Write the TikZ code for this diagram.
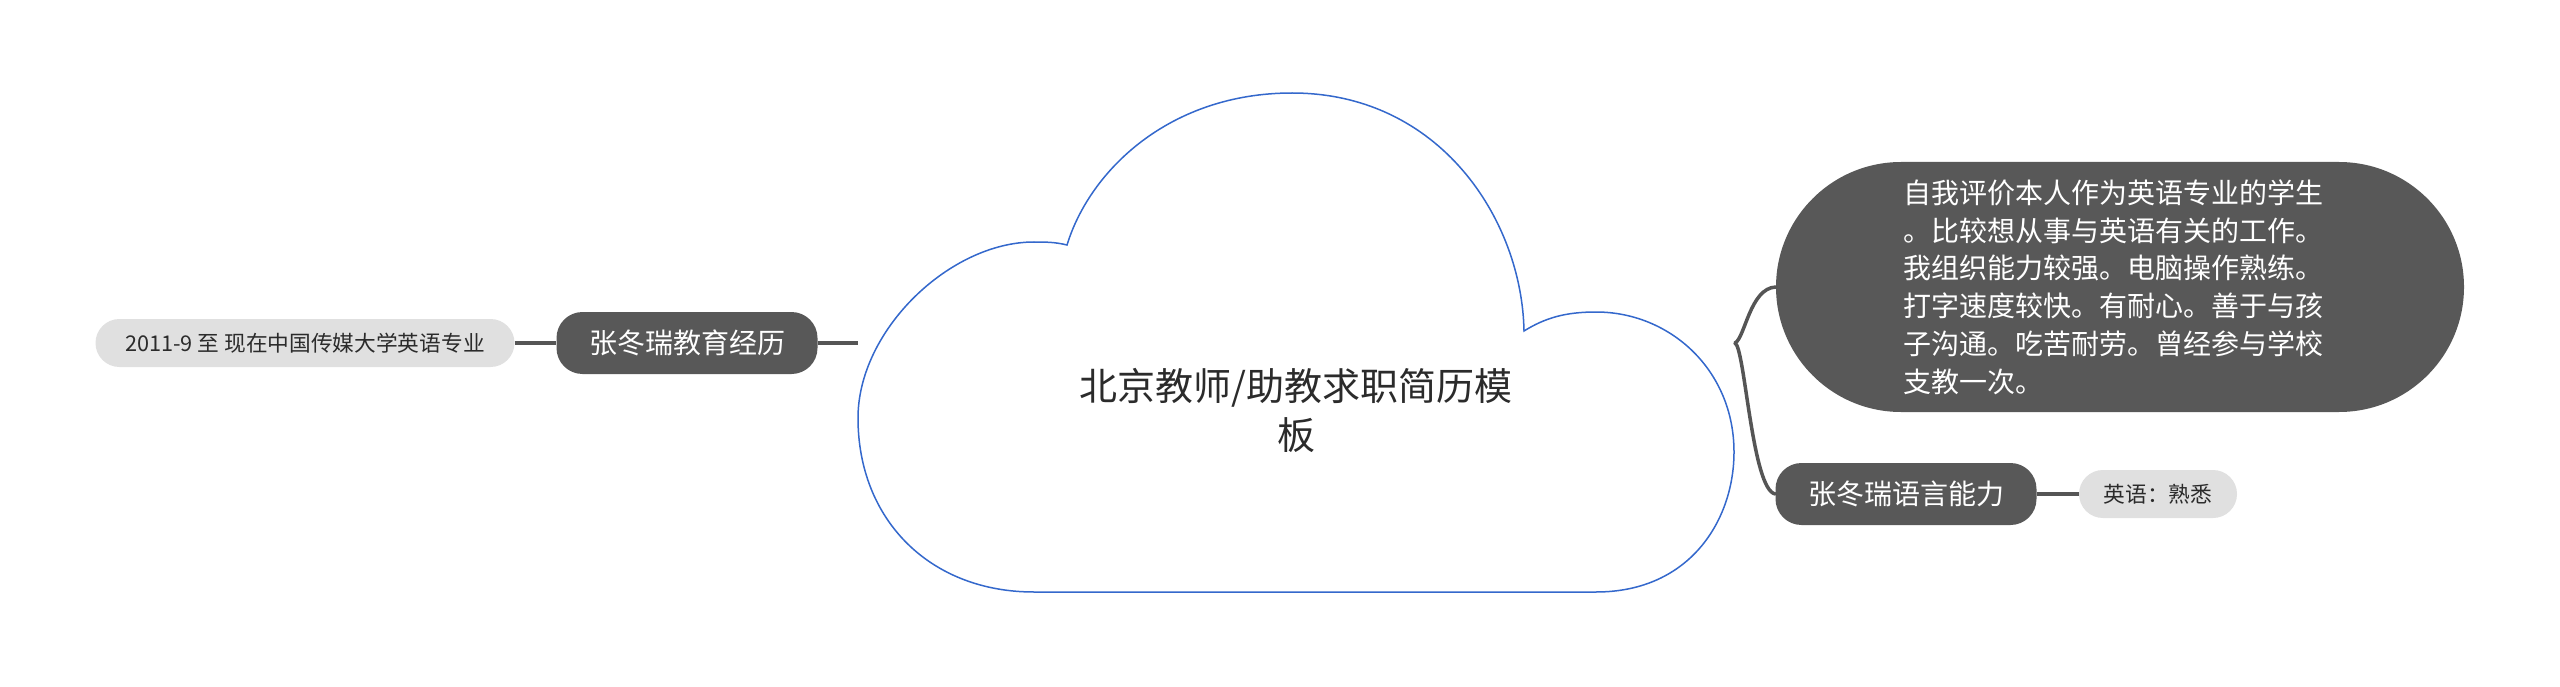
\documentclass[tikz,border=0pt]{standalone}
\usepackage{fontspec}
\setmainfont{Noto Sans CJK SC}
\definecolor{nodegray}{HTML}{585858}
\definecolor{leafgray}{HTML}{E0E0E0}
\definecolor{linegray}{HTML}{555555}
\definecolor{cloudblue}{HTML}{3468CC}
\definecolor{textdark}{HTML}{2B2B2B}
\begin{document}
\begin{tikzpicture}[x=1pt,y=-1pt,
  branchbox/.style={rectangle, rounded corners=26pt, fill=nodegray, text=white,
    minimum width=261pt, minimum height=62pt, inner sep=0pt,
    font=\fontsize{28}{34}\selectfont},
  leafbox/.style={rectangle, rounded corners=24pt, fill=leafgray, text=textdark,
    minimum height=48pt, inner sep=0pt, font=\fontsize{21.7}{26}\selectfont},
  bigbox/.style={rectangle, rounded corners=125pt, fill=nodegray, text=white,
    minimum width=688pt, minimum height=250pt, inner sep=0pt, align=left,
    text width=434pt, font=\fontsize{28}{37.8}\selectfont},
  cloudline/.style={draw=cloudblue, line width=1.5pt},
  link/.style={draw=linegray, line width=3.5pt},
  titletext/.style={text=textdark, align=center, font=\fontsize{38}{49}\selectfont}]
\useasboundingbox[fill=white] (0,0) rectangle (2560,687);

% cloud (root)
\draw[cloudline] (1034,592) -- (1596,592)
  .. controls (1690,592) and (1734,520) .. (1734,452)
  .. controls (1734,370) and (1670,312) .. (1596,312)
  .. controls (1565,312) and (1545,318) .. (1524,331)
  .. controls (1522,220) and (1440,93) .. (1292,93)
  .. controls (1170,93) and (1090,170) .. (1067,245)
  .. controls (1055,242) and (1045,242) .. (1034,242)
  .. controls (950,242) and (858,330) .. (858,418)
  .. controls (858,520) and (930,592) .. cycle;
\node[titletext] (root) at (1296,410) {北京教师/助教求职简历模\\板};
\coordinate (cloudL) at (858,343);
\coordinate (cloudR) at (1735,343);

% left branch
\node[branchbox] (edu) at (687,343) {张冬瑞教育经历};
\node[leafbox, minimum width=419pt] (eduleaf) at (305,343) {2011-9 至 现在中国传媒大学英语专业};

% right branches
\node[bigbox] (eval) at (2120,287) {自我评价本人作为英语专业的学生\\。比较想从事与英语有关的工作。\\我组织能力较强。电脑操作熟练。\\打字速度较快。有耐心。善于与孩\\子沟通。吃苦耐劳。曾经参与学校\\支教一次。};
\node[branchbox] (lang) at (1906,494) {张冬瑞语言能力};
\node[leafbox, minimum width=158pt] (langleaf) at (2158,494) {英语：熟悉};

% connectors
\draw[link] (eduleaf.east) -- (edu.west);
\draw[link] (edu.east) -- (cloudL);
\draw[link] (lang.east) -- (langleaf.west);
\draw[link, line cap=round, line join=round] (cloudR) .. controls (1745,338) and (1750,288) .. (eval.west);
\draw[link, line cap=round, line join=round] (cloudR) .. controls (1745,348) and (1752,490) .. (lang.west);
\end{tikzpicture}
\end{document}
